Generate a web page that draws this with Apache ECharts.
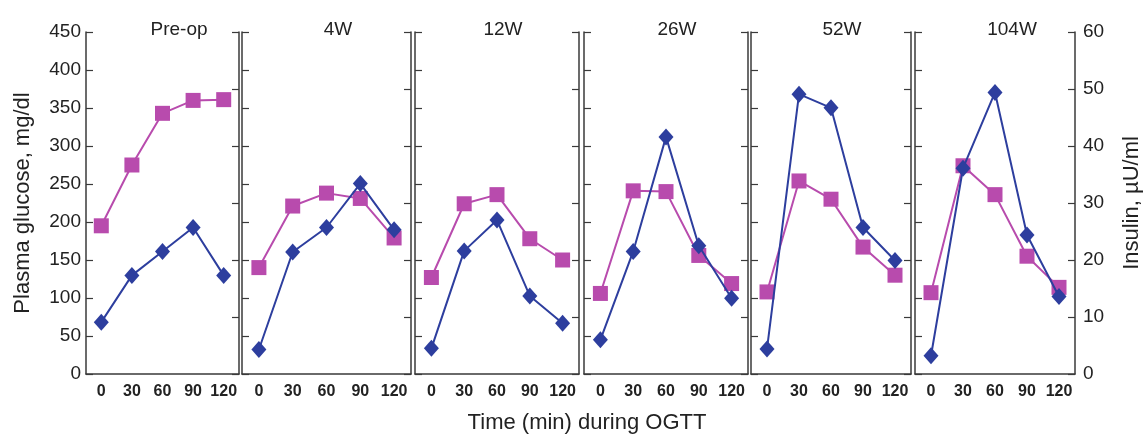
<!DOCTYPE html>
<html>
<head>
<meta charset="utf-8">
<script src="https://cdn.jsdelivr.net/npm/echarts@6/dist/echarts.min.js"></script>
<style>
html,body{margin:0;padding:0;background:#fff;}
#chart{width:1144px;height:434px;}
</style>
</head>
<body>
<div id="chart"></div>
<script>
// ---- data ----
const categories = ['0', '30', '60', '90', '120'];
const panelLabels = ['Pre-op', '4W', '12W', '26W', '52W', '104W'];

const glucosePreop = [195, 275, 343, 360, 361];
const glucose4W    = [140, 221, 238, 231, 179];
const glucose12W   = [127, 224, 236, 178, 150];
const glucose26W   = [106, 241, 240, 156, 119];
const glucose52W   = [108, 254, 230, 167, 130];
const glucose104W  = [107, 274, 236, 155, 114];

const insulinPreop = [9.1, 17.3, 21.5, 25.7, 17.3];
const insulin4W    = [4.3, 21.4, 25.7, 33.4, 25.3];
const insulin12W   = [4.5, 21.6, 27.0, 13.7, 8.9];
const insulin26W   = [6.0, 21.5, 41.6, 22.5, 13.3];
const insulin52W   = [4.4, 49.1, 46.7, 25.7, 19.9];
const insulin104W  = [3.2, 36.1, 49.4, 24.4, 13.6];

const glucoseTicks = { min: 0, max: 450, interval: 50 };
const insulinTicks = { min: 0, max: 60, interval: 10 };

const glucoseSets = [glucosePreop, glucose4W, glucose12W, glucose26W, glucose52W, glucose104W];
const insulinSets = [insulinPreop, insulin4W, insulin12W, insulin26W, insulin52W, insulin104W];

// ---- layout ----
const FONT = "'Liberation Sans', Arial, Helvetica, sans-serif";
const panelLeft  = [86, 242, 415, 584, 751, 915];
const panelWidth = [153, 169, 164, 164, 160, 163];
const titleX     = [174, 333, 498, 672, 837, 1007];
const TOP = 32, HEIGHT = 342;
const AXIS_COLOR = '#3a3a3a';
const MAGENTA = '#B84BAD';
const BLUE = '#2D3E9E';

const grid = [], xAxis = [], yAxis = [], series = [], title = [];

for (let i = 0; i < 6; i++) {
  grid.push({ left: panelLeft[i], top: TOP, width: panelWidth[i], height: HEIGHT, containLabel: false });
  title.push({
    text: panelLabels[i], left: titleX[i], top: 15, textAlign: 'center',
    textStyle: { fontFamily: FONT, fontSize: 19, fontWeight: 'normal', color: '#222' }
  });
  xAxis.push({
    type: 'category', gridIndex: i, data: categories, boundaryGap: true,
    axisLine: { lineStyle: { color: AXIS_COLOR, width: 1.5 } },
    axisTick: { inside: true, length: 7, interval: 0, lineStyle: { color: AXIS_COLOR, width: 1.2 } },
    axisLabel: { interval: 0, hideOverlap: false, fontFamily: FONT, fontSize: 16, fontWeight: 'bold', color: '#222', margin: 10 },
    splitLine: { show: false }
  });
  yAxis.push({
    type: 'value', gridIndex: i, position: 'left',
    min: glucoseTicks.min, max: glucoseTicks.max, interval: glucoseTicks.interval,
    axisLine: { show: true, lineStyle: { color: AXIS_COLOR, width: 1.5 } },
    axisTick: { show: true, inside: true, length: 7, lineStyle: { color: AXIS_COLOR, width: 1.2 } },
    axisLabel: { show: i === 0, fontFamily: FONT, fontSize: 19, color: '#222', margin: 5 },
    splitLine: { show: false },
    name: i === 0 ? 'Plasma glucose, mg/dl' : '',
    nameLocation: 'middle', nameRotate: 90, nameGap: 52,
    nameTextStyle: { fontFamily: FONT, fontSize: 22, color: '#222' }
  });
  yAxis.push({
    type: 'value', gridIndex: i, position: 'right',
    min: insulinTicks.min, max: insulinTicks.max, interval: insulinTicks.interval,
    axisLine: { show: true, lineStyle: { color: AXIS_COLOR, width: 1.5 } },
    axisTick: { show: true, inside: true, length: 7, lineStyle: { color: AXIS_COLOR, width: 1.2 } },
    axisLabel: { show: i === 5, fontFamily: FONT, fontSize: 19, color: '#222', margin: 8 },
    splitLine: { show: false },
    name: i === 5 ? 'Insulin, µU/ml' : '',
    nameLocation: 'middle', nameRotate: 90, nameGap: 46,
    nameTextStyle: { fontFamily: FONT, fontSize: 22, color: '#222' }
  });
}

for (let i = 0; i < 6; i++) {
  series.push({
    type: 'line', xAxisIndex: i, yAxisIndex: 2 * i, data: glucoseSets[i],
    symbol: 'rect', symbolSize: 15, showSymbol: true, z: 2,
    lineStyle: { color: MAGENTA, width: 2 }, itemStyle: { color: MAGENTA },
    animation: false
  });
}
for (let i = 0; i < 6; i++) {
  series.push({
    type: 'line', xAxisIndex: i, yAxisIndex: 2 * i + 1, data: insulinSets[i],
    symbol: 'diamond', symbolSize: [15, 17], showSymbol: true, z: 3,
    lineStyle: { color: BLUE, width: 2 }, itemStyle: { color: BLUE },
    animation: false
  });
}

title.push({
  text: 'Time (min) during OGTT', left: 582, top: 407, textAlign: 'center',
  textStyle: { fontFamily: FONT, fontSize: 22, fontWeight: 'normal', color: '#222' }
});

const chart = echarts.init(document.getElementById('chart'), null, { renderer: 'canvas' });
chart.setOption({
  animation: false,
  backgroundColor: '#fff',
  title, grid, xAxis, yAxis, series
});
</script>
</body>
</html>
